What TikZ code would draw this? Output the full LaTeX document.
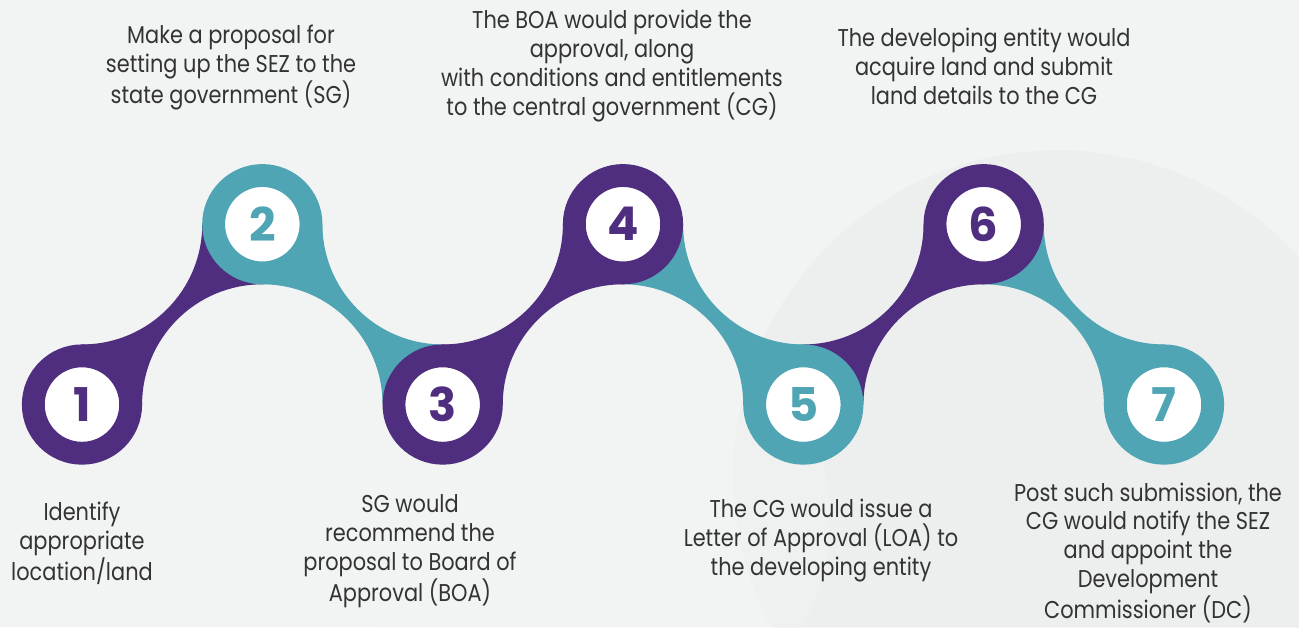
\documentclass[tikz,border=0pt]{standalone}
\usepackage{fontspec}
\setmainfont{Poppins}[FakeStretch=0.86]
\newfontfamily\numfont{Poppins}[BoldFont=* Bold]
\usepackage{xcolor}
\usepackage{tikz}
\usetikzlibrary{positioning, calc}
\definecolor{sezpurple}{RGB}{79,45,127}
\definecolor{sezteal}{RGB}{80,165,181}
\definecolor{bggrey}{RGB}{242,244,244}
\definecolor{bgshade}{RGB}{230,233,232}

\begin{document}
\begin{tikzpicture}[
	stepring/.style={circle, minimum size=1.62cm, inner sep=0pt, fill=white, draw=#1, line width=0.38cm, text=#1, font=\numfont\bfseries\fontsize{22}{22}\selectfont},
	steptext/.style={align=center, inner sep=0pt, text=black!80, font=\fontsize{11.5}{13.7}\selectfont}
	]
		\fill[bggrey] (0,0) rectangle (21.61,-10.431);
		\useasboundingbox (0,0) rectangle (21.61,-10.431);
		\fill[bgshade, opacity=0.45] (17.6,-7.9) circle (5.4);
		\fill[bggrey, opacity=0.4] (9.8,-8.6) circle (4.0);
		
		\pgfmathsetmacro{\ytop}{-3.73}
		\pgfmathsetmacro{\ybot}{-6.73}
		\pgfmathsetmacro{\rbend}{2}
		\coordinate (p1) at (1.364,\ybot);
		\coordinate (p2) at (4.364,\ytop);
		\coordinate (p3) at (7.364,\ybot);
		\coordinate (p4) at (10.364,\ytop);
		\coordinate (p5) at (13.364,\ybot);
		\coordinate (p6) at (16.364,\ytop);
		\coordinate (p7) at (19.364,\ybot);
		
		\fill[sezpurple] (p1) -- ++(0,1) arc[start angle=-90, end angle=0, radius=\rbend] -- (p2) -- ++(0,-1) arc[start angle=90, end angle=180, radius=\rbend] -- cycle;
		\fill[sezteal] (p2) -- ++(1,0) arc[start angle=180, end angle=270, radius=\rbend] -- (p3) -- ++(-1,0) arc[start angle=0, end angle=90, radius=\rbend] -- cycle;
		\fill[sezpurple] (p3) -- ++(0,1) arc[start angle=-90, end angle=0, radius=\rbend] -- (p4) -- ++(0,-1) arc[start angle=90, end angle=180, radius=\rbend] -- cycle;
		\fill[sezteal] (p4) -- ++(1,0) arc[start angle=180, end angle=270, radius=\rbend] -- (p5) -- ++(-1,0) arc[start angle=0, end angle=90, radius=\rbend] -- cycle;
		\fill[sezpurple] (p5) -- ++(0,1) arc[start angle=-90, end angle=0, radius=\rbend] -- (p6) -- ++(0,-1) arc[start angle=90, end angle=180, radius=\rbend] -- cycle;
		\fill[sezteal] (p6) -- ++(1,0) arc[start angle=180, end angle=270, radius=\rbend] -- (p7) -- ++(-1,0) arc[start angle=0, end angle=90, radius=\rbend] -- cycle;
		
		\node[stepring=sezpurple] (c1) at (p1) {1};
		\node[stepring=sezteal] (c2) at (p2) {2};
		\node[stepring=sezpurple] (c3) at (p3) {3};
		\node[stepring=sezpurple] (c4) at (p4) {4};
		\node[stepring=sezteal] (c5) at (p5) {5};
		\node[stepring=sezpurple] (c6) at (p6) {6};
		\node[stepring=sezteal] (c7) at (p7) {7};
		
		\node[steptext] (t1) at (1.364,-9.04) {Identify\\appropriate\\location/land};
		\node[steptext] (t2) at (3.843,-1.12) {Make a proposal for\\setting up the SEZ to the\\state government (SG)};
		\node[steptext] (t3) at (6.821,-9.17) {SG would\\recommend the\\proposal to Board of\\Approval (BOA)};
		\node[steptext] (t4) at (10.181,-1.10) {The BOA would provide the\\approval, along\\with conditions and entitlements\\to the central government (CG)};
		\node[steptext] (t5) at (13.658,-8.99) {The CG would issue a\\Letter of Approval (LOA) to\\the developing entity};
		\node[steptext] (t6) at (16.37,-1.10) {The developing entity would\\acquire land and submit\\land details to the CG};
		\node[steptext] (t7) at (19.098,-9.20) {Post such submission, the\\CG would notify the SEZ\\and appoint the\\Development\\Commissioner (DC)};
\end{tikzpicture}
\end{document}
